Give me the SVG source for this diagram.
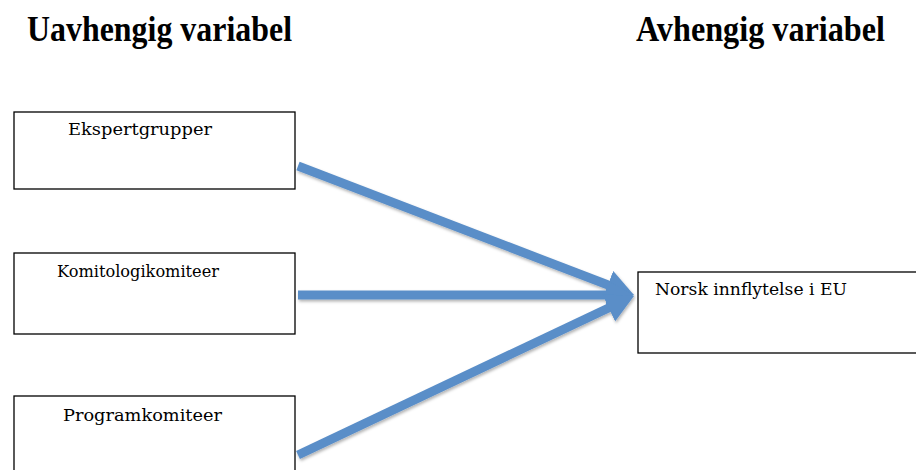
<svg xmlns="http://www.w3.org/2000/svg" width="916" height="470" viewBox="0 0 916 470">
<style>
.title{font-family:"Liberation Serif","Times New Roman",serif;font-weight:bold;font-size:35px;fill:#000}
.box{fill:#fff;stroke:#000;stroke-width:1.3}
.lbl{font-family:"DejaVu Serif","Liberation Serif",serif;font-size:16px;fill:#000}
.arr{stroke:#5a8ec8;stroke-width:9;fill:none}
</style>
<defs>
<marker id="head" markerUnits="userSpaceOnUse" markerWidth="30" markerHeight="32" refX="8" refY="15" orient="auto">
<path d="M0,0 L28,15 L0,30 z" fill="#5a8ec8"/>
</marker>
<filter id="sh" x="-10%" y="-10%" width="120%" height="130%">
<feDropShadow dx="1" dy="2" stdDeviation="1.5" flood-color="#000" flood-opacity="0.3"/>
</filter>
</defs>
<text class="title" x="27" y="41" textLength="265" lengthAdjust="spacingAndGlyphs">Uavhengig variabel</text>
<text class="title" x="636" y="41" textLength="249" lengthAdjust="spacingAndGlyphs">Avhengig variabel</text>
<g id="n1"><rect class="box" x="14" y="112" width="281" height="77"/><text class="lbl" x="68" y="135" textLength="144" lengthAdjust="spacingAndGlyphs">Ekspertgrupper</text></g>
<g id="n2"><rect class="box" x="14" y="253" width="281" height="81"/><text class="lbl" x="57" y="277" textLength="162" lengthAdjust="spacingAndGlyphs">Komitologikomiteer</text></g>
<g id="n3"><rect class="box" x="14" y="396" width="281" height="80"/><text class="lbl" x="63" y="421" textLength="159" lengthAdjust="spacingAndGlyphs">Programkomiteer</text></g>
<g id="n4"><rect class="box" x="638" y="272" width="290" height="81"/><text class="lbl" x="655" y="295" textLength="192" lengthAdjust="spacingAndGlyphs">Norsk innflytelse i EU</text></g>
<g id="connectors" filter="url(#sh)">
<line class="arr" x1="298" y1="166" x2="615.3" y2="287.8" marker-end="url(#head)"/>
<line class="arr" x1="298" y1="295" x2="614" y2="295" marker-end="url(#head)"/>
<line class="arr" x1="298" y1="455" x2="615.9" y2="304.5" marker-end="url(#head)"/>
</g>
</svg>
